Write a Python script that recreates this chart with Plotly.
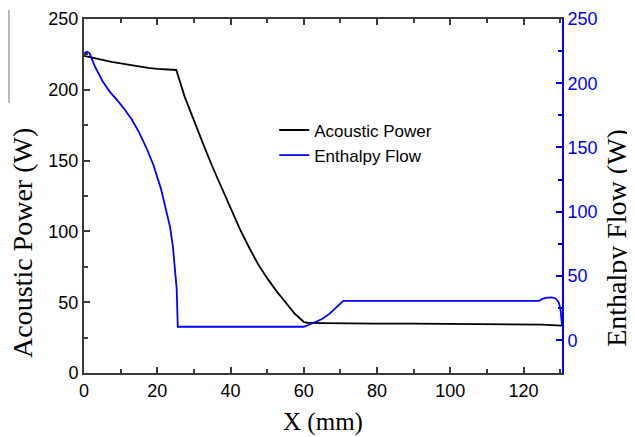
import plotly.graph_objects as go

# Acoustic power (left axis)
ap_x = [0, 2.5, 5, 7.5, 10, 12.5, 15, 17.5, 20, 22.5, 25.2, 27.5, 30, 32.5, 35, 37.5, 40,
        42.5, 45, 47.5, 50, 52.5, 55, 57.5, 60, 61, 65, 70, 80, 90, 100, 110, 120, 125, 130.5]
ap_y = [224, 222.5, 221, 219.8, 218.6, 217.4, 216.4, 215.5, 214.8, 214.3, 214, 195, 178, 162,
        146, 131, 116, 102, 89, 77, 67, 58, 50, 42, 36, 35.5, 35.2, 35, 34.9, 34.8, 34.7,
        34.5, 34.3, 34.1, 33.5]

# Enthalpy flow (right axis)
ef_x = [0, 0.8, 1.5, 3, 5, 7, 9, 11, 13, 15, 17, 19, 21, 22.5, 23.5, 24.3, 24.9, 25.3, 25.6,
        30, 40, 50, 60, 61, 63, 65, 67, 68.5, 70, 70.8, 80, 100, 120, 124.3, 125, 126,
        127.5, 128.8, 129.6, 130.1, 130.4, 130.5]
ef_y = [223, 224.5, 223.5, 213, 202, 193.5, 187, 180, 172, 162, 150, 136, 118, 101, 88, 72,
        52, 40, 10.5, 10.5, 10.5, 10.5, 10.5, 11.5, 14, 16.5, 20.5, 24.5, 29, 30.6, 30.6,
        30.6, 30.6, 30.6, 32, 33, 33.3, 32.5, 29.5, 24, 15, 12]

x_ticks = [0, 20, 40, 60, 80, 100, 120]
y_ticks = [0, 50, 100, 150, 200, 250]

AX = "#3a3a3a"
BLUE = "#0000ff"
TICKF = dict(family="Liberation Sans, Arial", size=18, color="black")
SERIF = "Liberation Serif, Times New Roman"

fig = go.Figure()
fig.add_trace(go.Scatter(x=ap_x, y=ap_y, mode="lines", name="Acoustic Power",
                         line=dict(color="black", width=1.8), yaxis="y"))
fig.add_trace(go.Scatter(x=ef_x, y=ef_y, mode="lines", name="Enthalpy Flow",
                         line=dict(color=BLUE, width=1.8), yaxis="y2"))

# page body has an 8px margin, so the figure is sized/offset to compensate
fig.update_layout(
    width=627, height=429,
    margin=dict(l=76, r=73, t=11, b=64),
    paper_bgcolor="white", plot_bgcolor="white",
    showlegend=True,
    legend=dict(x=0.398, y=0.736, xanchor="left", yanchor="top",
                font=dict(family="Liberation Sans, Arial", size=17, color="black"),
                bgcolor="rgba(0,0,0,0)", tracegroupgap=0),
    xaxis=dict(range=[0, 130.5], tickvals=x_ticks, ticks="inside", ticklen=6, tickwidth=1.5,
               tickcolor=AX, showline=True, linecolor=AX, linewidth=2, mirror="ticks",
               showgrid=False, zeroline=False, tickfont=TICKF, automargin=False,
               minor=dict(ticks="inside", dtick=10, ticklen=4, tickwidth=1.5, tickcolor=AX),
               title=dict(text="X (mm)", font=dict(family=SERIF, size=25, color="black"),
                          standoff=13)),
    yaxis=dict(range=[0, 250], tickvals=y_ticks, ticks="inside", ticklen=6, tickwidth=1.5,
               tickcolor=AX, showline=True, linecolor=AX, linewidth=2,
               showgrid=False, zeroline=False, tickfont=TICKF, automargin=False,
               minor=dict(ticks="inside", dtick=25, ticklen=4, tickwidth=1.5, tickcolor=AX)),
    yaxis2=dict(range=[-25.5, 250], tickvals=y_ticks, overlaying="y", side="right",
                ticks="inside", ticklen=6, tickwidth=1.5, tickcolor=BLUE,
                showline=True, linecolor=BLUE, linewidth=2,
                showgrid=False, zeroline=False, automargin=False,
                tickfont=dict(family="Liberation Sans, Arial", size=18, color=BLUE),
                minor=dict(ticks="inside", dtick=25, ticklen=4, tickwidth=1.5, tickcolor=BLUE)),
    annotations=[
        dict(text="Acoustic Power (W)", textangle=-90, xref="paper", yref="paper",
             x=-0.130, y=0.367, xanchor="center", yanchor="middle", showarrow=False,
             font=dict(family=SERIF, size=28, color="black")),
        dict(text="Enthalpy Flow (W)", textangle=-90, xref="paper", yref="paper",
             x=1.149, y=0.381, xanchor="right", yanchor="middle", showarrow=False,
             font=dict(family=SERIF, size=28, color="black")),
    ],
    shapes=[dict(type="line", xref="paper", yref="paper", x0=-0.157, x1=-0.157,
                 y0=1.0254, y1=0.7627, line=dict(color="#777777", width=1))],
)

fig.write_html("out.html")
